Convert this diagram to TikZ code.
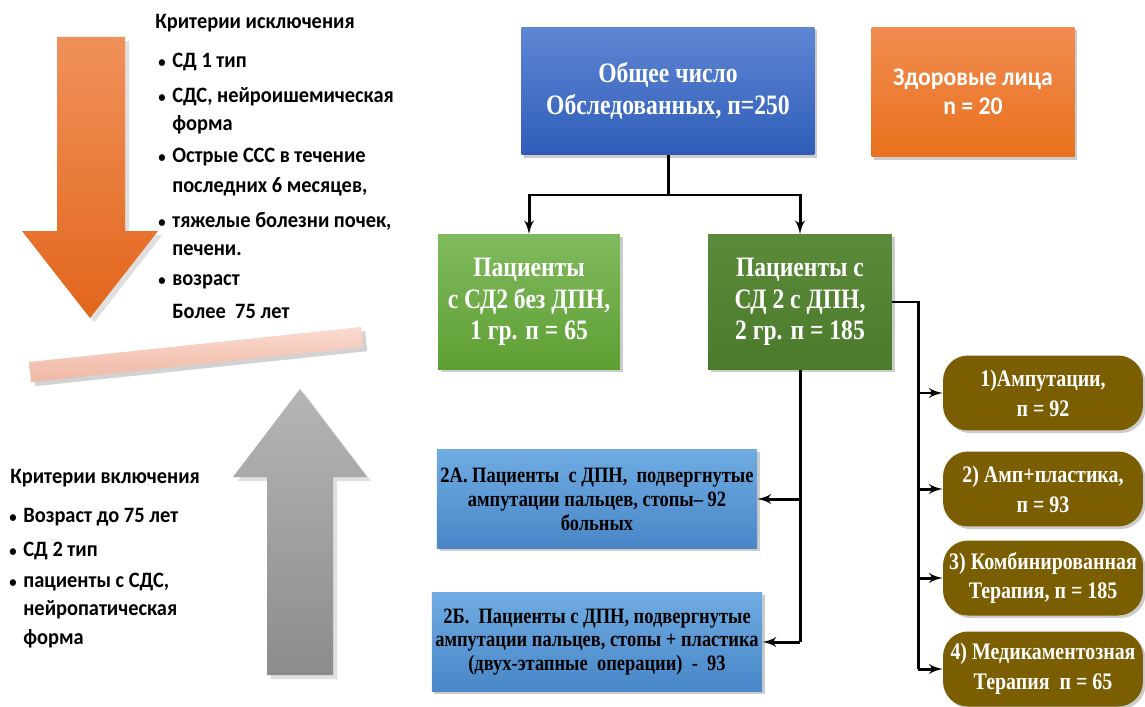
\documentclass[tikz,border=0pt]{standalone}
\usepackage{fontspec}
\setmainfont{Carlito}
\newfontfamily\tnr[FakeStretch=0.84]{Liberation Serif}
\newfontfamily\critfont[FakeStretch=0.93]{Carlito}
\usetikzlibrary{arrows,positioning,shadows,calc}

\definecolor{exTop}{HTML}{F0915A}
\definecolor{exBot}{HTML}{E2661C}
\definecolor{inTop}{HTML}{B5B5B5}
\definecolor{inBot}{HTML}{8C8C8C}
\definecolor{barTop}{HTML}{FADBCF}
\definecolor{barBot}{HTML}{F0B7A4}
\definecolor{allTop}{HTML}{5F86D4}
\definecolor{allBot}{HTML}{2E5DB8}
\definecolor{hlTop}{HTML}{F28C52}
\definecolor{hlBot}{HTML}{E8711C}
\definecolor{gaTop}{HTML}{80BA5E}
\definecolor{gaBot}{HTML}{5E9F33}
\definecolor{gbTop}{HTML}{5A8A3A}
\definecolor{gbBot}{HTML}{4C7A2C}
\definecolor{subTop}{HTML}{70ACE2}
\definecolor{subBot}{HTML}{4886C8}
\definecolor{treat}{HTML}{7C5E02}

\begin{document}
\begin{tikzpicture}[x = 0.02cm, y = -0.02cm, > = latex', font = \bfseries]
    \tikzset{
      box/.style = {align = center, text = white, inner sep = 2pt,
        drop shadow = {opacity = 0.4, shadow xshift = 1.5pt, shadow yshift = -1.5pt},
        font = \tnr\bfseries\fontsize{16}{18}\selectfont},
      subbox/.style = {box, text = black, top color = subTop, bottom color = subBot,
        minimum width = 6.38cm, minimum height = 1.98cm,
        font = \tnr\bfseries\fontsize{12.5}{13.6}\selectfont},
      treatbox/.style = {box, fill = treat, rounded corners = 0.5cm,
        minimum width = 4cm, minimum height = 1.5cm,
        font = \tnr\bfseries\fontsize{13.5}{17}\selectfont},
      conn/.style = {line width = 1.7pt},
      crit/.style = {anchor = west, inner sep = 0pt, text height = 9pt, text depth = 2.5pt,
        font = \critfont\bfseries\fontsize{12.5}{15}\selectfont},
      dot/.style = {crit, font = \critfont\bfseries\fontsize{9}{9}\selectfont},
    }
    \useasboundingbox (0, 0) rectangle (1145, 706);
    \fill[white] (0, 0) rectangle (1145, 706);

    % big arrows and the bar
    \shade[top color = exTop, bottom color = exBot, drop shadow = {opacity = 0.25}]
      (57, 37) -- (125, 37) -- (125, 231) -- (158, 231) -- (90, 318)
      -- (22, 231) -- (57, 231) -- cycle;
    \shade[top color = barTop, bottom color = barBot, drop shadow = {opacity = 0.35}]
      (29, 362) -- (361, 327) -- (363, 347) -- (31, 382) -- cycle;
    \shade[top color = inTop, bottom color = inBot, drop shadow = {opacity = 0.25}]
      (300, 389) -- (367, 477) -- (333, 477) -- (333, 675) -- (267, 675)
      -- (267, 477) -- (233, 477) -- cycle;

    % exclusion criteria
    \node [crit] (exhead) at (155, 23) {Критерии исключения};
    \node [dot] (exd1) at (158, 62) {•};
    \node [crit] (ex1) at (172, 62) {СД 1 тип};
    \node [dot] (exd2) at (158, 97) {•};
    \node [crit] (ex2) at (172, 97) {СДС, нейроишемическая};
    \node [crit] (ex2b) at (172, 125) {форма};
    \node [dot] (exd3) at (158, 157) {•};
    \node [crit] (ex3) at (172, 157) {Острые ССС в течение};
    \node [crit] (ex3b) at (172, 187) {последних 6 месяцев,};
    \node [dot] (exd4) at (158, 222) {•};
    \node [crit] (ex4) at (172, 222) {тяжелые болезни почек,};
    \node [crit] (ex4b) at (172, 250) {печени.};
    \node [dot] (exd5) at (158, 280) {•};
    \node [crit] (ex5) at (172, 280) {возраст};
    \node [crit] (ex5b) at (172, 313) {Более\ \ 75 лет};

    % inclusion criteria
    \node [crit] (inhead) at (10, 478) {Критерии включения};
    \node [dot] (ind1) at (9, 517) {•};
    \node [crit] (in1) at (23, 517) {Возраст до 75 лет};
    \node [dot] (ind2) at (9, 551) {•};
    \node [crit] (in2) at (23, 551) {СД 2 тип};
    \node [dot] (ind3) at (9, 582) {•};
    \node [crit] (in3) at (23, 582) {пациенты с СДС,};
    \node [crit] (in3b) at (23, 610) {нейропатическая};
    \node [crit] (in3c) at (23, 639) {форма};

    % groups
    \node [box, top color = allTop, bottom color = allBot,
      minimum width = 5.86cm, minimum height = 2.56cm] (total) at (668, 91)
      {Общее число\\Обследованных, п=250};
    \node [box, top color = hlTop, bottom color = hlBot, minimum width = 4.06cm,
      minimum height = 2.6cm, font = \critfont\bfseries\fontsize{14.5}{16.5}\selectfont] (healthy) at (973, 92)
      {Здоровые лица\\n = 20};
    \node [box, top color = gaTop, bottom color = gaBot,
      minimum width = 3.64cm, minimum height = 2.7cm] (grp1) at (529, 302)
      {Пациенты\\с СД2 без ДПН,\\1 гр. п = 65};
    \node [box, top color = gbTop, bottom color = gbBot,
      minimum width = 3.68cm, minimum height = 2.7cm] (grp2) at (800, 302)
      {Пациенты с\\СД 2 с ДПН,\\2 гр. п = 185};

    \node [subbox] (sub2a) at (597, 499)
      {2А. Пациенты\ \ с ДПН,\ \ подвергнутые\\ампутации пальцев, стопы– 92\\больных};
    \node [subbox] (sub2b) at (597, 642)
      {2Б.\ \ Пациенты с ДПН, подвергнутые\\ампутации пальцев, стопы + пластика\\(двух-этапные\ \ операции)\ \ -\ \ 93};

    \node [treatbox] (amp) at (1043, 393) {1)Ампутации,\\п = 92};
    \node [treatbox] (plast) at (1043, 489) {2) Амп+пластика,\\п = 93};
    \node [treatbox] (comb) at (1043, 578) {3) Комбинированная\\Терапия, п = 185};
    \node [treatbox] (drug) at (1043, 669) {4) Медикаментозная\\Терапия\ \ п = 65};

    % connectors
    \coordinate (split) at (668, 195);
    \draw [conn] (total.south) -- (split);
    \draw [conn, ->] (split) -| (grp1.north);
    \draw [conn, ->] (split) -| (grp2.north);

    \coordinate (rail) at (918, 302);
    \draw [conn] (grp2.east) -- (rail) -- (rail |- drug.west);
    \draw [conn, ->] (rail |- amp.west) -- (amp.west);
    \draw [conn, ->] (rail |- plast.west) -- (plast.west);
    \draw [conn, ->] (rail |- comb.west) -- (comb.west);
    \draw [conn, ->] (rail |- drug.west) -- (drug.west);

    \draw [conn] (grp2.south) -- (grp2.south |- sub2b.east);
    \draw [conn, ->] (grp2.south |- sub2a.east) -- (sub2a.east);
    \draw [conn, ->] (grp2.south |- sub2b.east) -- (sub2b.east);
  \end{tikzpicture}
\end{document}
